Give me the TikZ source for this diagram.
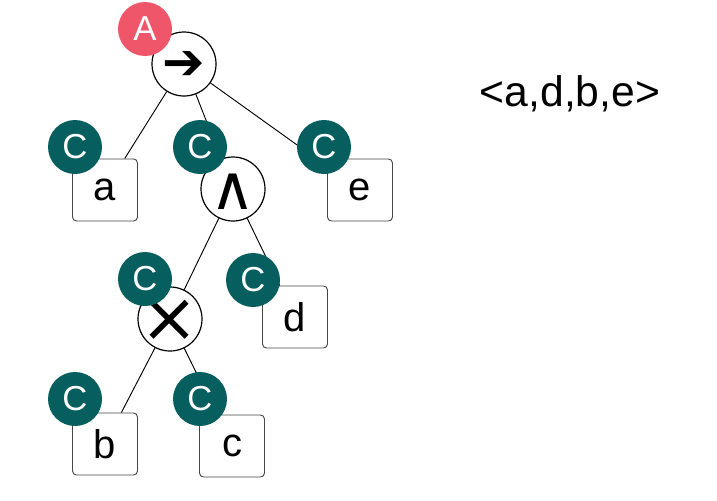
\documentclass[tikz,border=0pt]{standalone}
\usepackage{fontspec}
\setmainfont{Liberation Sans}
\newfontfamily\symfont{DejaVu Sans}
\definecolor{badgeteal}{RGB}{6,94,94}
\definecolor{badgered}{RGB}{240,86,106}
\definecolor{boxgray}{RGB}{70,70,70}
% operator glyph, centred without widening the circle
\newcommand{\opglyph}[3]{\symfont\fontsize{#1}{#1}\selectfont\smash{\raisebox{-#2em}{#3}}}

\begin{document}
\begin{tikzpicture}[x=0.75pt, y=-0.75pt,
    opnode/.style={draw, circle, line width=0.9pt, fill=white, minimum size=48pt, inner sep=0pt},
    leafbox/.style={draw=boxgray, line width=0.7pt, rounded corners=3pt, fill=white, minimum width=48.75pt, minimum height=46.5pt, inner sep=0pt, font=\fontsize{30}{30}\selectfont},
    cbadge/.style={circle, fill=badgeteal, text=white, minimum size=40.5pt, inner sep=0pt, font=\fontsize{26}{26}\selectfont},
    tedge/.style={line width=0.7pt}]
            \useasboundingbox (0,0) rectangle (717,500);

            % Operator nodes
            \node[opnode] (seq) at (184,64) {\opglyph{38}{0.30}{➔}};
            \node[opnode] (conj) at (233,189) {\opglyph{46}{0.34}{∧}};
            \node[opnode] (cross) at (170,319) {\opglyph{52}{0.32}{×}};

            % Leaves
            \node[leafbox] (la) at (105,190) {a};
            \node[leafbox] (le) at (360,190) {e};
            \node[leafbox] (ld) at (295,317) {d};
            \node[leafbox] (lb) at (105,444) {b};
            \node[leafbox] (lc) at (232,446) {c};

            % Edges
            \draw[tedge] (seq) -- (la);
            \draw[tedge] (seq) -- (conj);
            \draw[tedge] (seq) -- (le);
            \draw[tedge] (conj) -- (cross);
            \draw[tedge] (conj) -- (ld);
            \draw[tedge] (cross) -- (lb);
            \draw[tedge] (cross) -- (lc);

            % Badges
            \node[cbadge, fill=badgered] (ba) at (145,29) {A};
            \node[cbadge] (bca) at (75,147) {C};
            \node[cbadge] (bcconj) at (200,147) {C};
            \node[cbadge] (bce) at (324,147) {C};
            \node[cbadge] (bccross) at (145,279) {C};
            \node[cbadge] (bcd) at (253,280) {C};
            \node[cbadge] (bcb) at (75,399) {C};
            \node[cbadge] (bcc) at (200,399) {C};

            % Trace
            \node[font=\fontsize{32}{32}\selectfont] (trace) at (570,94) {<a,d,b,e>};
        \end{tikzpicture}
\end{document}
